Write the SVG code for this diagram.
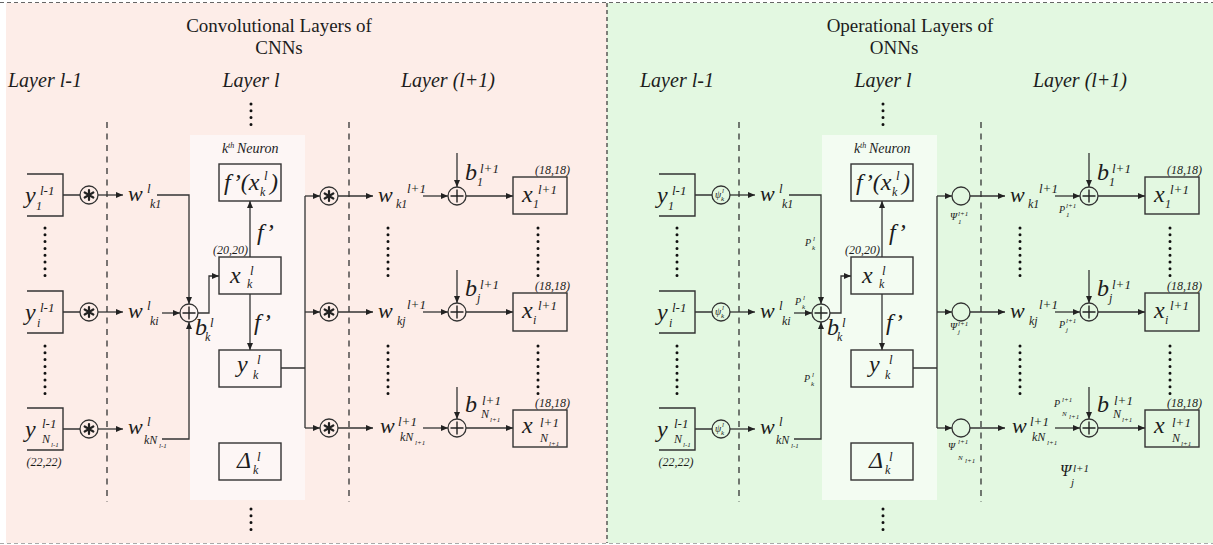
<svg xmlns="http://www.w3.org/2000/svg" width="1213" height="545" viewBox="0 0 1213 545">
<defs>
<marker id="ah" markerWidth="7" markerHeight="6" refX="7" refY="3" orient="auto" markerUnits="userSpaceOnUse"><path d="M0,0 L7,3 L0,6 z" fill="#222"/></marker>
<style>
text{font-family:"Liberation Serif","Times New Roman",serif;fill:#1c1c1c}
.i{font-style:italic}
.m{font-style:italic;font-size:24px}
.w{font-style:italic;font-size:22px}
.sp{font-style:italic;font-size:13px}
.sb{font-style:italic;font-size:12px}
.tn{font-style:italic;font-size:7px}
.sm{font-style:italic;font-size:12px}
.ttl{font-size:19px}
.lay{font-style:italic;font-size:20px}
.pl{font-style:italic;font-size:10px}
.ps{font-style:italic;font-size:7px}
.box{fill:none;stroke:#333;stroke-width:1.4}
.cn{fill:none;stroke:#333;stroke-width:1.3}
.ca{fill:none;stroke:#333;stroke-width:1.3;marker-end:url(#ah)}
.op{fill:none;stroke:#333;stroke-width:1.3}
.ast{stroke:#222;stroke-width:2.2;stroke-linecap:round}
.pls{stroke:#222;stroke-width:1.4}
.dash{stroke:#333;stroke-width:1.3;stroke-dasharray:6 5.5}
.dots{stroke:#111;stroke-width:3;stroke-linecap:round;stroke-dasharray:0 6.8}
</style>
</defs>

<!-- backgrounds -->
<rect x="6" y="3" width="601" height="540" fill="#fdede8"/>
<rect x="607" y="3" width="606" height="540" fill="#e3f8e1"/>
<line x1="0" y1="2.5" x2="1213" y2="2.5" stroke="#666" stroke-width="1" stroke-dasharray="4 3"/>
<line x1="0" y1="543.5" x2="1213" y2="543.5" stroke="#aaa" stroke-width="1" stroke-dasharray="4 3"/>
<line x1="607" y1="3" x2="607" y2="543" stroke="#333" stroke-width="1.2" stroke-dasharray="4 3"/>
<rect x="190" y="135" width="115" height="365" fill="#fdf6f5"/>
<rect x="822" y="135" width="115" height="365" fill="#f3fcf2"/>

<!-- titles -->
<g id="titles">
<text class="ttl" x="279" y="32" text-anchor="middle">Convolutional Layers of</text>
<text class="ttl" x="279" y="54" text-anchor="middle">CNNs</text>
<text class="lay" x="8" y="87">Layer l-1</text>
<text class="lay" x="251" y="87" text-anchor="middle">Layer l</text>
<text class="lay" x="448" y="87" text-anchor="middle">Layer (l+1)</text>
<text class="ttl" x="910" y="32" text-anchor="middle">Operational Layers of</text>
<text class="ttl" x="894" y="54" text-anchor="middle">ONNs</text>
<text class="lay" x="640" y="87">Layer l-1</text>
<text class="lay" x="883" y="87" text-anchor="middle">Layer l</text>
<text class="lay" x="1080" y="87" text-anchor="middle">Layer (l+1)</text>
</g>

<!-- ================= LEFT PANEL (CNN) ================= -->
<g id="cnn-guides">
<line class="dash" x1="107" y1="122" x2="107" y2="502"/>
<line class="dash" x1="349" y1="122" x2="349" y2="502"/>
<line class="dots" x1="251" y1="104" x2="251" y2="126"/>
<line class="dots" x1="251" y1="509" x2="251" y2="531"/>
<line class="dots" x1="45" y1="228" x2="45" y2="277"/>
<line class="dots" x1="45" y1="346" x2="45" y2="395"/>
<line class="dots" x1="388" y1="228" x2="388" y2="277"/>
<line class="dots" x1="388" y1="346" x2="388" y2="395"/>
<line class="dots" x1="538" y1="228" x2="538" y2="277"/>
<line class="dots" x1="538" y1="346" x2="538" y2="395"/>
</g>

<g id="cnn-connectors">
<path class="cn" d="M63 195 H80 M63 312 H80 M63 429 H80"/>
<path class="ca" d="M98 195 H123"/>
<path class="ca" d="M98 312 H123"/>
<path class="ca" d="M98 429 H123"/>
<path class="ca" d="M157 195 H189 V304"/>
<path class="ca" d="M162 313 H180"/>
<path class="ca" d="M162 439 H189 V322"/>
<path class="ca" d="M198 313 H209 V276 H219"/>
<path class="ca" d="M250 257 V201"/>
<path class="ca" d="M250 294 V350"/>
<path class="cn" d="M281 368 H305 M305 196 V428"/>
<path class="ca" d="M305 196 H320"/>
<path class="ca" d="M305 312 H320"/>
<path class="ca" d="M305 428 H320"/>
<path class="ca" d="M338 196 H373"/>
<path class="ca" d="M338 312 H373"/>
<path class="ca" d="M338 428 H373"/>
<path class="ca" d="M423 196 H448"/>
<path class="ca" d="M423 312 H448"/>
<path class="ca" d="M423 428 H448"/>
<path class="ca" d="M457 153 V187"/>
<path class="ca" d="M457 270 V303"/>
<path class="ca" d="M457 387 V419"/>
<path class="ca" d="M466 196 H513"/>
<path class="ca" d="M466 312 H513"/>
<path class="ca" d="M466 428 H513"/>
</g>

<g id="cnn-y1"><path class="box" d="M27 174 H63 V216 H27"/>
<text class="m" x="25" y="203">y</text><text class="sp" x="40" y="195">l-1</text><text class="sb" x="36" y="210">1</text></g>
<g id="cnn-yi"><path class="box" d="M27 291 H63 V333 H27"/>
<text class="m" x="25" y="320">y</text><text class="sp" x="40" y="312">l-1</text><text class="sb" x="37" y="327">i</text></g>
<g id="cnn-yN"><path class="box" d="M27 408 H63 V450 H27"/>
<text class="m" x="25" y="437">y</text><text class="sp" x="42" y="428">l-1</text><text class="sb" x="42" y="443">N</text><text class="tn" x="51" y="447">l-1</text>
<text class="sm" x="44" y="466" text-anchor="middle">(22,22)</text></g>

<g id="cnn-conv-in">
<circle class="op" cx="89" cy="195" r="9"/><circle class="op" cx="89" cy="312" r="9"/><circle class="op" cx="89" cy="429" r="9"/>
<path class="ast" d="M89 190 V200 M84.7 192.5 L93.3 197.5 M84.7 197.5 L93.3 192.5 M89 307 V317 M84.7 309.5 L93.3 314.5 M84.7 314.5 L93.3 309.5 M89 424 V434 M84.7 426.5 L93.3 431.5 M84.7 431.5 L93.3 426.5"/>
</g>

<g id="cnn-w-in">
<text class="w" x="128" y="201">w</text><text class="sp" x="147" y="193">l</text><text class="sb" x="150" y="208">k1</text>
<text class="w" x="128" y="318">w</text><text class="sp" x="147" y="310">l</text><text class="sb" x="150" y="325">ki</text>
<text class="w" x="128" y="434">w</text><text class="sp" x="147" y="426">l</text><text class="sb" x="144" y="444">kN</text><text class="tn" x="159" y="448">l-1</text>
</g>

<g id="cnn-sum">
<circle class="op" cx="189" cy="313" r="9"/><path class="pls" d="M182.5 313 H195.5 M189 306.5 V319.5"/>
<text class="m" x="195" y="335">b</text><text class="sp" x="210" y="327">l</text><text class="sb" x="205" y="341">k</text>
</g>

<g id="cnn-neuron">
<text class="i" x="222" y="153" font-size="14">k</text><text class="i" x="228" y="148" font-size="8">th</text><text class="i" x="237" y="153" font-size="14">Neuron</text>
<rect class="box" x="219" y="164" width="62" height="37"/>
<text class="m" x="224" y="190">f’(x</text><text class="sb" x="260" y="196">k</text><text class="sp" x="264" y="180">l</text><text class="m" x="270" y="190">)</text>
<text class="m" x="257" y="240">f’</text>
<text class="sm" x="248" y="254" text-anchor="end">(20,20)</text>
<rect class="box" x="219" y="257" width="62" height="37"/>
<text class="m" x="230" y="283">x</text><text class="sp" x="250" y="275">l</text><text class="sb" x="247" y="288">k</text>
<text class="m" x="254" y="330">f’</text>
<rect class="box" x="219" y="350" width="62" height="37"/>
<text class="m" x="237" y="372">y</text><text class="sp" x="257" y="364">l</text><text class="sb" x="253" y="379">k</text>
<rect class="box" x="219" y="443" width="62" height="37"/>
<text class="m" x="237" y="468" font-size="22">Δ</text><text class="sp" x="257" y="461">l</text><text class="sb" x="253" y="474">k</text>
</g>

<g id="cnn-conv-out">
<circle class="op" cx="329" cy="196" r="9"/><circle class="op" cx="329" cy="312" r="9"/><circle class="op" cx="329" cy="428" r="9"/>
<path class="ast" d="M329 191 V201 M324.7 193.5 L333.3 198.5 M324.7 198.5 L333.3 193.5 M329 307 V317 M324.7 309.5 L333.3 314.5 M324.7 314.5 L333.3 309.5 M329 423 V433 M324.7 425.5 L333.3 430.5 M324.7 430.5 L333.3 425.5"/>
</g>

<g id="cnn-w-out">
<text class="w" x="378" y="202">w</text><text class="sb" x="396" y="208">k1</text><text class="sp" x="407" y="193">l+1</text>
<text class="w" x="378" y="318">w</text><text class="sb" x="397" y="325">kj</text><text class="sp" x="407" y="309">l+1</text>
<text class="w" x="380" y="433">w</text><text class="sp" x="398" y="426">l+1</text><text class="sb" x="400" y="441">kN</text><text class="tn" x="415" y="445">l+1</text>
</g>

<g id="cnn-sum-out">
<circle class="op" cx="457" cy="196" r="9"/><circle class="op" cx="457" cy="312" r="9"/><circle class="op" cx="457" cy="428" r="9"/>
<path class="pls" d="M450.5 196 H463.5 M457 189.5 V202.5 M450.5 312 H463.5 M457 305.5 V318.5 M450.5 428 H463.5 M457 421.5 V434.5"/>
<text class="m" x="465" y="180">b</text><text class="sp" x="480" y="173">l+1</text><text class="sb" x="477" y="186">1</text>
<text class="m" x="465" y="296">b</text><text class="sp" x="480" y="289">l+1</text><text class="sb" x="477" y="302">j</text>
<text class="m" x="465" y="412">b</text><text class="sp" x="482" y="405">l+1</text><text class="sb" x="481" y="418">N</text><text class="tn" x="490" y="422">l+1</text>
</g>

<g id="cnn-x-out">
<rect class="box" x="513" y="177" width="54" height="37"/>
<text class="sm" x="570" y="174" text-anchor="end">(18,18)</text>
<text class="m" x="522" y="202">x</text><text class="sb" x="533" y="208">1</text><text class="sp" x="538" y="194">l+1</text>
<rect class="box" x="513" y="293" width="54" height="38"/>
<text class="sm" x="570" y="290" text-anchor="end">(18,18)</text>
<text class="m" x="522" y="318">x</text><text class="sb" x="533" y="324">i</text><text class="sp" x="538" y="310">l+1</text>
<rect class="box" x="513" y="410" width="54" height="37"/>
<text class="sm" x="570" y="407" text-anchor="end">(18,18)</text>
<text class="m" x="522" y="433">x</text><text class="sp" x="540" y="427">l+1</text><text class="sb" x="540" y="442">N</text><text class="tn" x="549" y="446">l+1</text>
</g>

<!-- ================= RIGHT PANEL (ONN) ================= -->
<g id="onn-guides" transform="translate(632,0)">
<line class="dash" x1="107" y1="122" x2="107" y2="502"/>
<line class="dash" x1="349" y1="122" x2="349" y2="502"/>
<line class="dots" x1="251" y1="104" x2="251" y2="126"/>
<line class="dots" x1="251" y1="509" x2="251" y2="531"/>
<line class="dots" x1="45" y1="228" x2="45" y2="277"/>
<line class="dots" x1="45" y1="346" x2="45" y2="395"/>
<line class="dots" x1="388" y1="228" x2="388" y2="277"/>
<line class="dots" x1="388" y1="346" x2="388" y2="395"/>
<line class="dots" x1="538" y1="228" x2="538" y2="277"/>
<line class="dots" x1="538" y1="346" x2="538" y2="395"/>
</g>

<g id="onn-connectors" transform="translate(632,0)">
<path class="cn" d="M63 195 H80 M63 312 H80 M63 429 H80"/>
<path class="ca" d="M98 195 H123"/>
<path class="ca" d="M98 312 H123"/>
<path class="ca" d="M98 429 H123"/>
<path class="ca" d="M157 195 H189 V304"/>
<path class="ca" d="M162 313 H180"/>
<path class="ca" d="M162 439 H189 V322"/>
<path class="ca" d="M198 313 H209 V276 H219"/>
<path class="ca" d="M250 257 V201"/>
<path class="ca" d="M250 294 V350"/>
<path class="cn" d="M281 368 H305 M305 196 V428"/>
<path class="ca" d="M305 196 H320"/>
<path class="ca" d="M305 312 H320"/>
<path class="ca" d="M305 428 H320"/>
<path class="ca" d="M338 196 H373"/>
<path class="ca" d="M338 312 H373"/>
<path class="ca" d="M338 428 H373"/>
<path class="ca" d="M423 196 H448"/>
<path class="ca" d="M423 312 H448"/>
<path class="ca" d="M423 428 H448"/>
<path class="ca" d="M457 153 V187"/>
<path class="ca" d="M457 270 V303"/>
<path class="ca" d="M457 387 V419"/>
<path class="ca" d="M466 196 H513"/>
<path class="ca" d="M466 312 H513"/>
<path class="ca" d="M466 428 H513"/>
</g>

<g id="onn-y1" transform="translate(632,0)"><path class="box" d="M27 174 H63 V216 H27"/>
<text class="m" x="25" y="203">y</text><text class="sp" x="40" y="195">l-1</text><text class="sb" x="36" y="210">1</text></g>
<g id="onn-yi" transform="translate(632,0)"><path class="box" d="M27 291 H63 V333 H27"/>
<text class="m" x="25" y="320">y</text><text class="sp" x="40" y="312">l-1</text><text class="sb" x="37" y="327">i</text></g>
<g id="onn-yN" transform="translate(632,0)"><path class="box" d="M27 408 H63 V450 H27"/>
<text class="m" x="25" y="437">y</text><text class="sp" x="42" y="428">l-1</text><text class="sb" x="42" y="443">N</text><text class="tn" x="51" y="447">l-1</text>
<text class="sm" x="44" y="466" text-anchor="middle">(22,22)</text></g>

<g id="onn-psi-in" transform="translate(632,0)">
<circle class="op" cx="89" cy="195" r="9"/><circle class="op" cx="89" cy="312" r="9"/><circle class="op" cx="89" cy="429" r="9"/>
<text class="pl" x="83" y="198">ψ</text><text class="ps" x="90" y="193" font-size="6">l</text><text class="ps" x="89" y="201" font-size="6">k</text>
<text class="pl" x="83" y="315">ψ</text><text class="ps" x="90" y="310" font-size="6">l</text><text class="ps" x="89" y="318" font-size="6">k</text>
<text class="pl" x="83" y="432">ψ</text><text class="ps" x="90" y="427" font-size="6">l</text><text class="ps" x="89" y="435" font-size="6">k</text>
</g>

<g id="onn-w-in" transform="translate(632,0)">
<text class="w" x="128" y="201">w</text><text class="sp" x="147" y="193">l</text><text class="sb" x="150" y="208">k1</text>
<text class="w" x="128" y="318">w</text><text class="sp" x="147" y="310">l</text><text class="sb" x="150" y="325">ki</text>
<text class="w" x="128" y="434">w</text><text class="sp" x="147" y="426">l</text><text class="sb" x="144" y="444">kN</text><text class="tn" x="159" y="448">l-1</text>
<text class="pl" x="173" y="246">P</text><text class="ps" x="181" y="241">l</text><text class="ps" x="180" y="250">k</text>
<text class="pl" x="163" y="305">P</text><text class="ps" x="171" y="300">l</text><text class="ps" x="170" y="309">k</text>
<text class="pl" x="172" y="382">P</text><text class="ps" x="180" y="377">l</text><text class="ps" x="179" y="386">k</text>
</g>

<g id="onn-sum" transform="translate(632,0)">
<circle class="op" cx="189" cy="313" r="9"/><path class="pls" d="M182.5 313 H195.5 M189 306.5 V319.5"/>
<text class="m" x="195" y="335">b</text><text class="sp" x="210" y="327">l</text><text class="sb" x="205" y="341">k</text>
</g>

<g id="onn-neuron" transform="translate(632,0)">
<text class="i" x="222" y="153" font-size="14">k</text><text class="i" x="228" y="148" font-size="8">th</text><text class="i" x="237" y="153" font-size="14">Neuron</text>
<rect class="box" x="219" y="164" width="62" height="37"/>
<text class="m" x="224" y="190">f’(x</text><text class="sb" x="260" y="196">k</text><text class="sp" x="264" y="180">l</text><text class="m" x="270" y="190">)</text>
<text class="m" x="257" y="240">f’</text>
<text class="sm" x="248" y="254" text-anchor="end">(20,20)</text>
<rect class="box" x="219" y="257" width="62" height="37"/>
<text class="m" x="230" y="283">x</text><text class="sp" x="250" y="275">l</text><text class="sb" x="247" y="288">k</text>
<text class="m" x="254" y="330">f’</text>
<rect class="box" x="219" y="350" width="62" height="37"/>
<text class="m" x="237" y="372">y</text><text class="sp" x="257" y="364">l</text><text class="sb" x="253" y="379">k</text>
<rect class="box" x="219" y="443" width="62" height="37"/>
<text class="m" x="237" y="468" font-size="22">Δ</text><text class="sp" x="257" y="461">l</text><text class="sb" x="253" y="474">k</text>
</g>

<g id="onn-op-out" transform="translate(632,0)">
<circle class="op" cx="329" cy="196" r="9"/><circle class="op" cx="329" cy="312" r="9"/><circle class="op" cx="329" cy="428" r="9"/>
<text class="pl" x="318" y="220">Ψ</text><text class="ps" x="326" y="216">l+1</text><text class="ps" x="326" y="224">1</text>
<text class="pl" x="318" y="330">Ψ</text><text class="ps" x="326" y="326">l+1</text><text class="ps" x="326" y="334">j</text>
<text class="pl" x="316" y="450">Ψ</text><text class="ps" x="326" y="444">l+1</text><text class="ps" x="326" y="460" font-size="8">N</text><text class="ps" x="333" y="463" font-size="5">l+1</text>
</g>

<g id="onn-w-out" transform="translate(632,0)">
<text class="w" x="378" y="202">w</text><text class="sb" x="396" y="208">k1</text><text class="sp" x="407" y="193">l+1</text>
<text class="w" x="378" y="318">w</text><text class="sb" x="397" y="325">kj</text><text class="sp" x="407" y="309">l+1</text>
<text class="w" x="380" y="433">w</text><text class="sp" x="398" y="426">l+1</text><text class="sb" x="400" y="441">kN</text><text class="tn" x="415" y="445">l+1</text>
<text class="pl" x="427" y="213">P</text><text class="ps" x="434" y="208">l+1</text><text class="ps" x="434" y="217">1</text>
<text class="pl" x="427" y="328">P</text><text class="ps" x="434" y="323">l+1</text><text class="ps" x="434" y="332">j</text>
<text class="pl" x="422" y="407">P</text><text class="ps" x="430" y="402">l+1</text><text class="ps" x="430" y="416" font-size="8">N</text><text class="ps" x="437" y="419" font-size="5">l+1</text>
</g>

<g id="onn-sum-out" transform="translate(632,0)">
<circle class="op" cx="457" cy="196" r="9"/><circle class="op" cx="457" cy="312" r="9"/><circle class="op" cx="457" cy="428" r="9"/>
<path class="pls" d="M450.5 196 H463.5 M457 189.5 V202.5 M450.5 312 H463.5 M457 305.5 V318.5 M450.5 428 H463.5 M457 421.5 V434.5"/>
<text class="m" x="465" y="180">b</text><text class="sp" x="480" y="173">l+1</text><text class="sb" x="477" y="186">1</text>
<text class="m" x="465" y="296">b</text><text class="sp" x="480" y="289">l+1</text><text class="sb" x="477" y="302">j</text>
<text class="m" x="465" y="412">b</text><text class="sp" x="482" y="405">l+1</text><text class="sb" x="481" y="418">N</text><text class="tn" x="490" y="422">l+1</text>
<text class="i" x="428" y="476" font-size="16">Ψ</text><text class="i" x="441" y="472" font-size="11">l+1</text><text class="i" x="439" y="486" font-size="11">j</text>
</g>

<g id="onn-x-out" transform="translate(632,0)">
<rect class="box" x="513" y="177" width="54" height="37"/>
<text class="sm" x="570" y="174" text-anchor="end">(18,18)</text>
<text class="m" x="522" y="202">x</text><text class="sb" x="533" y="208">1</text><text class="sp" x="538" y="194">l+1</text>
<rect class="box" x="513" y="293" width="54" height="38"/>
<text class="sm" x="570" y="290" text-anchor="end">(18,18)</text>
<text class="m" x="522" y="318">x</text><text class="sb" x="533" y="324">i</text><text class="sp" x="538" y="310">l+1</text>
<rect class="box" x="513" y="410" width="54" height="37"/>
<text class="sm" x="570" y="407" text-anchor="end">(18,18)</text>
<text class="m" x="522" y="433">x</text><text class="sp" x="540" y="427">l+1</text><text class="sb" x="540" y="442">N</text><text class="tn" x="549" y="446">l+1</text>
</g>
</svg>
